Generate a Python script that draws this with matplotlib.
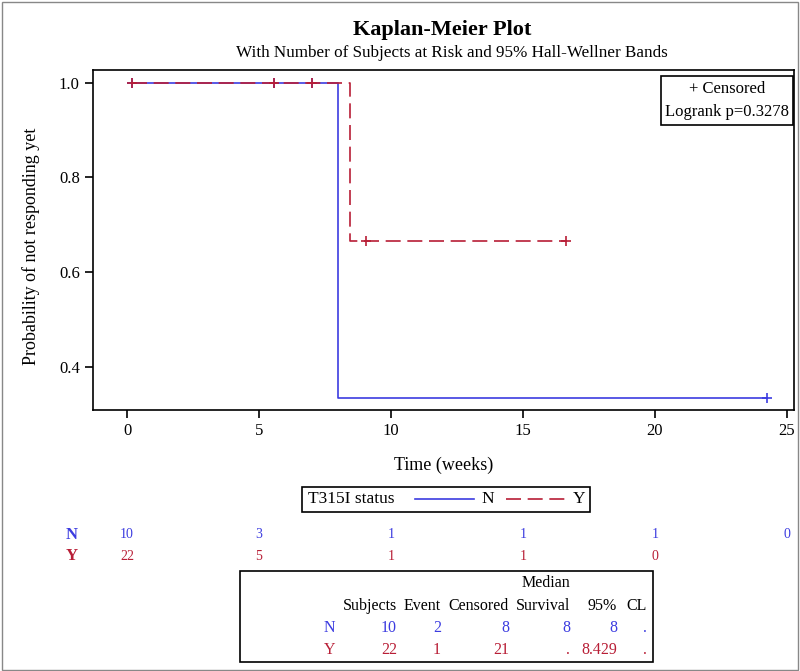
import matplotlib.pyplot as plt
import matplotlib.transforms as mtransforms
from matplotlib.patches import Rectangle
from matplotlib.lines import Line2D

plt.rcParams['font.family'] = ['Liberation Serif', 'DejaVu Serif']

# step curves (time, survival)
n_time = [0.2, 8.0, 8.0, 24.24]
n_surv = [1.0, 1.0, 0.3333, 0.3333]
n_cens_t = [0.2, 5.57, 7.0, 24.24]
n_cens_s = [1.0, 1.0, 1.0, 0.3333]

y_time = [0.2, 8.43, 8.43, 16.63]
y_surv = [1.0, 1.0, 0.6667, 0.6667]
y_cens_t = [0.2, 5.57, 7.0, 9.05, 16.63]
y_cens_s = [1.0, 1.0, 1.0, 0.6667, 0.6667]

# number at risk
risk_times = [0, 5, 10, 15, 20, 25]
risk_n = [10, 3, 1, 1, 1, 0]
risk_y = [22, 5, 1, 1, 0]

# summary table
tab_groups = ['N', 'Y']
tab_subjects = ['10', '22']
tab_event = ['2', '1']
tab_censored = ['8', '21']
tab_median = ['8', '.']
tab_lcl = ['8', '8.429']
tab_ucl = ['.', '.']

blue = '#3c3ce0'
red = '#b81e36'

W, H = 800, 671
fig = plt.figure(figsize=(W / 100, H / 100), dpi=100)

def fx(px):
    return px / W

def fy(py):
    return 1 - py / H

ax = fig.add_axes([fx(93), fy(410), fx(794) - fx(93), fy(70) - fy(410)])

ax.plot(n_time, n_surv, color=blue, lw=1.2)
ax.plot(n_cens_t, n_cens_s, ls='none', marker='+', ms=7, mew=1.2, color=blue)
ax.plot(y_time, y_surv, color=red, lw=1.2, dashes=(9, 4))
ax.plot(y_cens_t, y_cens_s, ls='none', marker='+', ms=7, mew=1.2, color=red)

ax.set_xlim(-1.29, 25.27)
ax.set_ylim(0.309, 1.027)
ax.set_xticks([0, 5, 10, 15, 20, 25])
ax.set_yticks([0.4, 0.6, 0.8, 1.0])
ax.set_yticklabels(['0.4', '0.6', '0.8', '1.0'])
ax.tick_params(direction='out', length=6, width=1.2, labelsize=12, colors='black')
for s in ax.spines.values():
    s.set_linewidth(1.2)
ax.set_xlabel('Time (weeks)', fontsize=13)
ax.set_ylabel('Probability of not responding yet', fontsize=13)
ax.xaxis.set_label_coords(0.5, -0.138)
ax.yaxis.set_label_coords(-0.076, 0.48)

# censored / logrank box
fig.patches.append(Rectangle((fx(661), fy(125)), fx(793) - fx(661), fy(76) - fy(125),
                             transform=fig.transFigure, fc='white',
                             ec='black', lw=1.2, zorder=5))
fig.text(fx(727), fy(89), '+ Censored', ha='center', va='center', fontsize=12, zorder=6)
fig.text(fx(727), fy(112), 'Logrank p=0.3278', ha='center', va='center', fontsize=12,
         zorder=6)

# titles
fig.text(fx(442), fy(30), 'Kaplan-Meier Plot', ha='center', va='center',
         fontsize=16, fontweight='bold')
fig.text(fx(452), fy(53), 'With Number of Subjects at Risk and 95% Hall-Wellner Bands',
         ha='center', va='center', fontsize=12.3)

# group legend
fig.patches.append(Rectangle((fx(302), fy(512)), fx(590) - fx(302), fy(487) - fy(512),
                             transform=fig.transFigure, fill=False, ec='black', lw=1.2))
fig.text(fx(308), fy(499), 'T315I status', ha='left', va='center', fontsize=12.5)
fig.lines.append(Line2D([fx(415), fx(474)], [fy(499), fy(499)], color=blue, lw=1.2,
                        transform=fig.transFigure))
fig.text(fx(488), fy(499), 'N', ha='center', va='center', fontsize=12.5)
fig.lines.append(Line2D([fx(506), fx(565)], [fy(499), fy(499)], color=red, lw=1.2,
                        dashes=(9, 4), transform=fig.transFigure))
fig.text(fx(579), fy(499), 'Y', ha='center', va='center', fontsize=12.5)

# at-risk rows
blend = mtransforms.blended_transform_factory(ax.transData, fig.transFigure)
fig.text(fx(72), fy(535), 'N', ha='center', va='center', fontsize=12, color=blue,
         fontweight='bold')
fig.text(fx(72), fy(556), 'Y', ha='center', va='center', fontsize=12, color=red,
         fontweight='bold')
for t, v in zip(risk_times, risk_n):
    ax.text(t, fy(535), str(v), transform=blend, ha='center', va='center',
            fontsize=10, color=blue, clip_on=False)
for t, v in zip(risk_times, risk_y):
    ax.text(t, fy(556), str(v), transform=blend, ha='center', va='center',
            fontsize=10, color=red, clip_on=False)

# summary table
fig.patches.append(Rectangle((fx(240), fy(662)), fx(653) - fx(240), fy(571) - fy(662),
                             transform=fig.transFigure, fill=False, ec='black', lw=1.2))
col_x = [397, 441, 509, 570, 617, 647]
headers = ['Subjects', 'Event', 'Censored', 'Survival', '95%', 'CL']
fig.text(fx(570), fy(583), 'Median', ha='right', va='center', fontsize=11.5)
for x, h in zip(col_x, headers):
    fig.text(fx(x), fy(606), h, ha='right', va='center', fontsize=11.5)
row_y = [628, 650]
for i, g in enumerate(tab_groups):
    c = blue if g == 'N' else red
    vals = [tab_subjects[i], tab_event[i], tab_censored[i], tab_median[i],
            tab_lcl[i], tab_ucl[i]]
    fig.text(fx(335), fy(row_y[i]), g, ha='right', va='center', fontsize=11.5, color=c)
    for x, v in zip(col_x, vals):
        fig.text(fx(x), fy(row_y[i]), v, ha='right', va='center', fontsize=11.5, color=c)

# outer frame
fig.patches.append(Rectangle((0.002, 0.002), 0.996, 0.995, transform=fig.transFigure,
                             fill=False, ec='#888888', lw=1))

fig.savefig('out.png', dpi=100)
